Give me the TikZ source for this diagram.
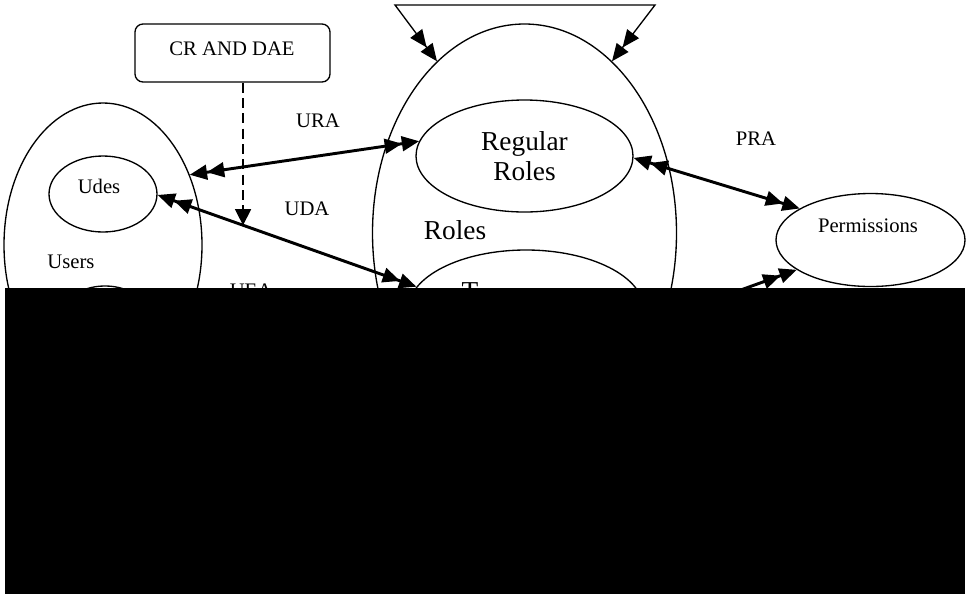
\documentclass[tikz,border=0pt]{standalone}
\usepackage{fontspec}
\setmainfont{Liberation Serif}
\usetikzlibrary{shapes.geometric,arrows.meta}
\begin{document}
\begin{tikzpicture}[x=.75pt,y=-.75pt,>={Triangle[length=13pt,width=11pt]},
  set/.style={draw,ellipse,line width=1pt,inner sep=0pt},
  lbl/.style={font=\fontsize{15.5}{18}\selectfont},
  big/.style={font=\fontsize{20.5}{22.5}\selectfont},
  dbl/.style={line width=2.2pt,<<->>}]
\useasboundingbox (0,0) rectangle (966,594);
% sets
\node[set,minimum width=148.5pt,minimum height=213pt] (users) at (103,245) {};
\node[set,minimum width=81pt,minimum height=57pt] (udes) at (103,194) {};
\node[set,minimum width=52.5pt,minimum height=28.5pt] (uext) at (105,305) {};
\node[set,minimum width=228pt,minimum height=313.5pt] (roles) at (524.5,233) {};
\node[set,big,align=center,minimum width=162.75pt,minimum height=84pt] (regular) at (524.5,156) {Regular\\Roles};
\node[set,minimum width=177pt,minimum height=90pt] (temp) at (526,310) {};
\node[set,minimum width=141.75pt,minimum height=69.75pt] (perm) at (870.5,240) {};
\node[draw,line width=1pt,rounded corners=6pt,lbl,minimum width=146.25pt,minimum height=43.5pt] (crdae) at (232.5,53) {};
% texts
\node[lbl] (crdael) at (232,49) {CR AND DAE};
\node[lbl] (udesl) at (99,186) {Udes};
\node[lbl] (usersl) at (71,262) {Users};
\node[big] (rolesl) at (455,230) {Roles};
\node[lbl] (perml) at (868,226) {Permissions};
\node[big] (templ) at (470,292) {T};
\node[lbl] (ura) at (318,121) {URA};
\node[lbl] (uda) at (307,209) {UDA};
\node[lbl] (pra) at (756,139) {PRA};
\node[lbl] (uea) at (251,291) {UEA};
% assignments
\draw[dbl] (users.39) -- (regular.172);
\draw[dbl] (udes.-1) -- coordinate[pos=.33] (udamid) (temp.168);
\draw[dbl] (regular.-1) -- (perm.156);
\draw[dbl] (temp.-8) -- (perm.202);
\coordinate (hl) at (395,5);
\coordinate (hr) at (655,5);
\draw[line width=1pt,<<->>] (roles.117) -- (hl) -- (hr) -- (roles.63);
\draw[line width=1pt,dash pattern=on 7.5pt off 4pt,-{Triangle[length=12pt,width=12pt]}] (crdae.south -| udamid) -- (udamid);
\fill (5,288) rectangle (965,594);
\end{tikzpicture}
\end{document}
